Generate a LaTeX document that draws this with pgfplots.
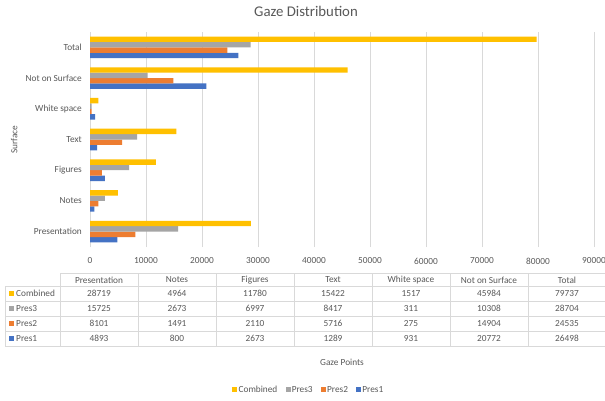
\documentclass[border=0pt]{standalone}
\usepackage{fontspec}
\setmainfont{Carlito}
\usepackage{pgfplots}
\pgfplotsset{compat=1.18}
\definecolor{txt}{HTML}{595959}
\definecolor{gridc}{HTML}{D9D9D9}
\definecolor{colComb}{HTML}{FFC000}
\definecolor{colP3}{HTML}{A5A5A5}
\definecolor{colP2}{HTML}{ED7D31}
\definecolor{colP1}{HTML}{4472C4}

\begin{document}
\begin{tikzpicture}[x=1bp,y=1bp]
\useasboundingbox (0,0) rectangle (605,400);
\fill[white] (0,0) rectangle (605,400);

\begin{axis}[
    at={(90bp,153bp)}, anchor=south west,
    scale only axis,
    width=504bp, height=215bp,
    xbar=0pt, bar width=5.4bp,
    xmin=0, xmax=90000,
    ymin=-0.5, ymax=6.5,
    xtick distance=10000,
    scaled x ticks=false,
    /pgf/number format/1000 sep={},
    /pgf/number format/assume math mode=true,
    ytick={0,...,6},
    yticklabels={Presentation,Notes,Figures,Text,White space,Not on Surface,Total},
    major tick length=0pt,
    xmajorgrids=true,
    grid style={gridc, line width=0.75bp},
    axis y line*=left,
    axis x line*=bottom,
    x axis line style={draw=none},
    y axis line style={gridc, line width=0.75bp, -},
    tick label style={font=\fontsize{9.3bp}{11bp}\selectfont, text=txt},
    xticklabel style={anchor=center, yshift=-14bp},
    yticklabel style={anchor=east, inner sep=0pt, xshift=-8bp},
    xlabel={Gaze Points},
    xlabel style={at={(axis description cs:0.5,-0.535)}, anchor=center,
                  font=\fontsize{9.3bp}{11bp}\selectfont, text=txt},
    ylabel={Surface},
    ylabel style={at={(axis description cs:-0.1505,0.5)}, anchor=center,
                  font=\fontsize{9.3bp}{11bp}\selectfont, text=txt},
    reverse legend,
    legend columns=-1,
    legend style={at={(axis description cs:0.4335,-0.665)}, anchor=center,
                  draw=none, fill=none,
                  font=\fontsize{9.3bp}{11bp}\selectfont, text=txt,
                  nodes={inner sep=1.2bp},
                  column sep=0pt},
    legend image code/.code={
        \fill[#1,draw=none] (0bp,-2.5bp) rectangle (5bp,2.5bp);},
]
\addplot[fill=colP1, draw=none] coordinates {
    (4893,0) (800,1) (2673,2) (1289,3) (931,4) (20772,5) (26498,6)};
\addplot[fill=colP2, draw=none] coordinates {
    (8101,0) (1491,1) (2110,2) (5716,3) (275,4) (14904,5) (24535,6)};
\addplot[fill=colP3, draw=none] coordinates {
    (15725,0) (2673,1) (6997,2) (8417,3) (311,4) (10308,5) (28704,6)};
\addplot[fill=colComb, draw=none] coordinates {
    (28719,0) (4964,1) (11780,2) (15422,3) (1517,4) (45984,5) (79737,6)};
\legend{Pres1,Pres2\rule{7bp}{0bp},Pres3\rule{7bp}{0bp},Combined\rule{7bp}{0bp}}
\end{axis}

% title
\node[text=txt, font=\fontsize{14.8bp}{17bp}\selectfont] at (306,389) {Gaze Distribution};

% data table
\begin{scope}[gridc, line width=0.75bp]
\draw (60,126.5) -- (605,126.5);
\foreach \y in {114,99,84,69,54} \draw (5,\y) -- (605,\y);
\draw (5,54) -- (5,114);
\foreach \x in {60,138,216,294,372,450,528} \draw (\x,54) -- (\x,126.5);
\end{scope}

\begin{scope}[every node/.style={text=txt, font=\fontsize{9.3bp}{11bp}\selectfont, inner sep=0pt}]
\foreach \x/\t in {99/Presentation,177/Notes,255/Figures,333/Text,411/White space,489/Not on Surface,567/Total}
    \node at (\x,120) {\t};
\foreach \y/\c/\t in {106.5/colComb/Combined,91.5/colP3/Pres3,76.5/colP2/Pres2,61.5/colP1/Pres1} {
    \fill[\c] (8.5,\y-2.5) rectangle (13.5,\y+2.5);
    \node[anchor=west] at (16,\y) {\t};
}
\foreach \x/\v in {99/28719,177/4964,255/11780,333/15422,411/1517,489/45984,567/79737}
    \node at (\x,106.5) {\v};
\foreach \x/\v in {99/15725,177/2673,255/6997,333/8417,411/311,489/10308,567/28704}
    \node at (\x,91.5) {\v};
\foreach \x/\v in {99/8101,177/1491,255/2110,333/5716,411/275,489/14904,567/24535}
    \node at (\x,76.5) {\v};
\foreach \x/\v in {99/4893,177/800,255/2673,333/1289,411/931,489/20772,567/26498}
    \node at (\x,61.5) {\v};
\end{scope}
\end{tikzpicture}
\end{document}
